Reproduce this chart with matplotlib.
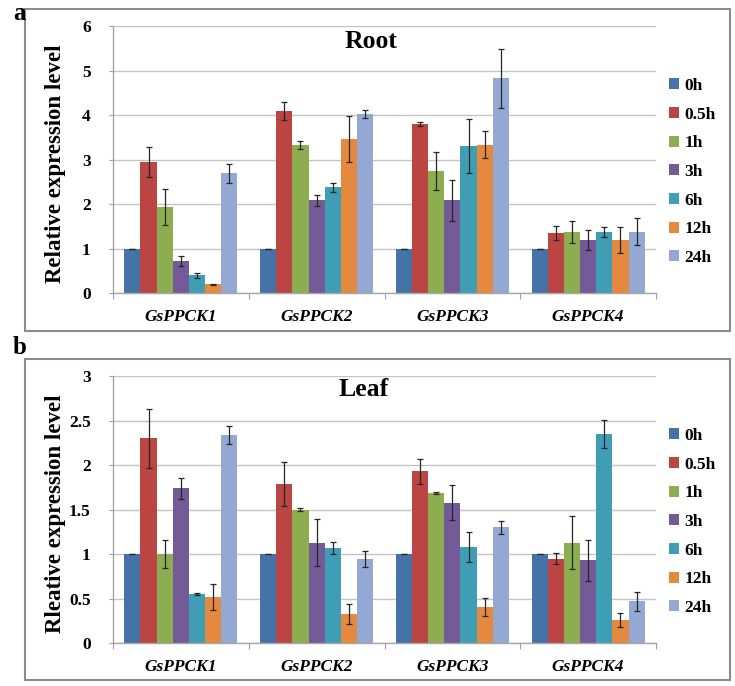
import numpy as np
import matplotlib.pyplot as plt
from matplotlib.patches import Rectangle, Patch

genes = ["GsPPCK1", "GsPPCK2", "GsPPCK3", "GsPPCK4"]
times = ["0h", "0.5h", "1h", "3h", "6h", "12h", "24h"]
colors = ["#4572A7", "#BA4542", "#8DAE50", "#745A97", "#3F9DB6", "#E5893F", "#93A9D4"]

# root, one list per gene (0h ... 24h)
root_k1 = [1.0, 2.94, 1.94, 0.73, 0.40, 0.20, 2.69]
root_k2 = [1.0, 4.09, 3.32, 2.09, 2.38, 3.46, 4.02]
root_k3 = [1.0, 3.80, 2.74, 2.09, 3.31, 3.34, 4.83]
root_k4 = [1.0, 1.35, 1.38, 1.20, 1.38, 1.20, 1.38]
root_k1_err = [0.0, 0.34, 0.40, 0.11, 0.05, 0.01, 0.21]
root_k2_err = [0.0, 0.21, 0.09, 0.12, 0.10, 0.51, 0.09]
root_k3_err = [0.0, 0.04, 0.43, 0.46, 0.61, 0.30, 0.66]
root_k4_err = [0.0, 0.16, 0.25, 0.23, 0.11, 0.29, 0.30]

# leaf
leaf_k1 = [1.0, 2.30, 1.00, 1.74, 0.55, 0.52, 2.34]
leaf_k2 = [1.0, 1.79, 1.50, 1.13, 1.07, 0.33, 0.95]
leaf_k3 = [1.0, 1.93, 1.69, 1.58, 1.08, 0.41, 1.30]
leaf_k4 = [1.0, 0.95, 1.13, 0.93, 2.35, 0.26, 0.47]
leaf_k1_err = [0.0, 0.33, 0.16, 0.12, 0.01, 0.15, 0.10]
leaf_k2_err = [0.0, 0.25, 0.02, 0.26, 0.07, 0.11, 0.09]
leaf_k3_err = [0.0, 0.14, 0.01, 0.20, 0.17, 0.10, 0.07]
leaf_k4_err = [0.0, 0.06, 0.30, 0.23, 0.16, 0.08, 0.11]

W, H = 735, 686
SERIF = "Liberation Serif"


def fx(px):
    return px / W


def fy(py):
    return 1 - py / H


def draw_panel(fig, means, errs, ytop, ybot, ymax, ystep, title, title_y, title_x,
               ylabel, letter, letter_y, box_top, box_bot):
    ax = fig.add_axes([fx(113), fy(ybot), (656 - 113) / W, (ybot - ytop) / H])
    means = np.array(means).T  # rows: time points
    errs = np.array(errs).T
    x = np.arange(len(genes))
    width = 0.119
    for i, t in enumerate(times):
        pos = x + (i - 3) * width
        ax.bar(pos, means[i], width=width, color=colors[i], edgecolor="none", zorder=2)
        ax.errorbar(pos, means[i], yerr=errs[i], fmt="none", ecolor="#262626",
                    elinewidth=0.9, capsize=2.3, capthick=0.9, zorder=3)

    ax.set_xlim(-0.5, 3.5)
    ax.set_ylim(0, ymax)
    ticks = np.arange(0, ymax + ystep / 2, ystep)
    ax.set_yticks(ticks)
    ax.set_yticklabels([f"{v:g}" for v in ticks],
                       fontfamily=SERIF, fontweight="bold", fontsize=12.5)
    ax.set_xticks([-0.5, 0.5, 1.5, 2.5, 3.5])
    ax.set_xticklabels([])
    ax.set_xticks(x, minor=True)
    ax.set_xticklabels(genes, minor=True, fontfamily=SERIF, fontweight="bold",
                       fontstyle="italic", fontsize=12.5)
    ax.tick_params(axis="x", which="major", length=4, color="#a0a0a0", direction="out")
    ax.tick_params(axis="x", which="minor", length=0, pad=11)
    ax.tick_params(axis="y", length=3, color="#a0a0a0", pad=13)
    ax.yaxis.grid(True, color="#c4c4c4", lw=1)
    ax.set_axisbelow(True)
    for s in ["top", "right"]:
        ax.spines[s].set_visible(False)
    for s in ["left", "bottom"]:
        ax.spines[s].set_color("#a6a6a6")
        ax.spines[s].set_linewidth(1)

    fig.text(fx(title_x), fy(title_y), title, ha="center", va="center",
             fontfamily=SERIF, fontweight="bold", fontsize=18.5)
    fig.text(fx(56), fy((ytop + ybot) / 2 + 4), ylabel, rotation=90, ha="center",
             va="center", fontfamily=SERIF, fontweight="bold", fontsize=16.5)
    fig.text(fx(20), fy(letter_y), letter, ha="center", va="center",
             fontfamily=SERIF, fontweight="bold", fontsize=18)
    fig.patches.append(Rectangle((fx(25), fy(box_bot)), (730 - 25) / W,
                                 (box_bot - box_top) / H, transform=fig.transFigure,
                                 fill=False, ec="#8c8c8c", lw=1.5))

    handles = [Patch(facecolor=c) for c in colors]
    fig.legend(handles, times, loc="upper left",
               bbox_to_anchor=(fx(669), fy(ytop + 52)), frameon=False,
               prop={"family": SERIF, "weight": "bold", "size": 12.5},
               handlelength=0.6, handleheight=0.6, handletextpad=0.3,
               labelspacing=0.73, borderpad=0, borderaxespad=0)
    return ax


fig = plt.figure(figsize=(W / 100, H / 100), dpi=100)

draw_panel(fig, [root_k1, root_k2, root_k3, root_k4],
           [root_k1_err, root_k2_err, root_k3_err, root_k4_err],
           26, 293.3, 6, 1, "Root", 42, 371, "Relative expression level",
           "a", 13, 9, 331)

draw_panel(fig, [leaf_k1, leaf_k2, leaf_k3, leaf_k4],
           [leaf_k1_err, leaf_k2_err, leaf_k3_err, leaf_k4_err],
           376, 643.3, 3, 0.5, "Leaf", 389, 364, "Rleative expression level",
           "b", 348, 359, 680)

fig.savefig("out.png", dpi=100)
